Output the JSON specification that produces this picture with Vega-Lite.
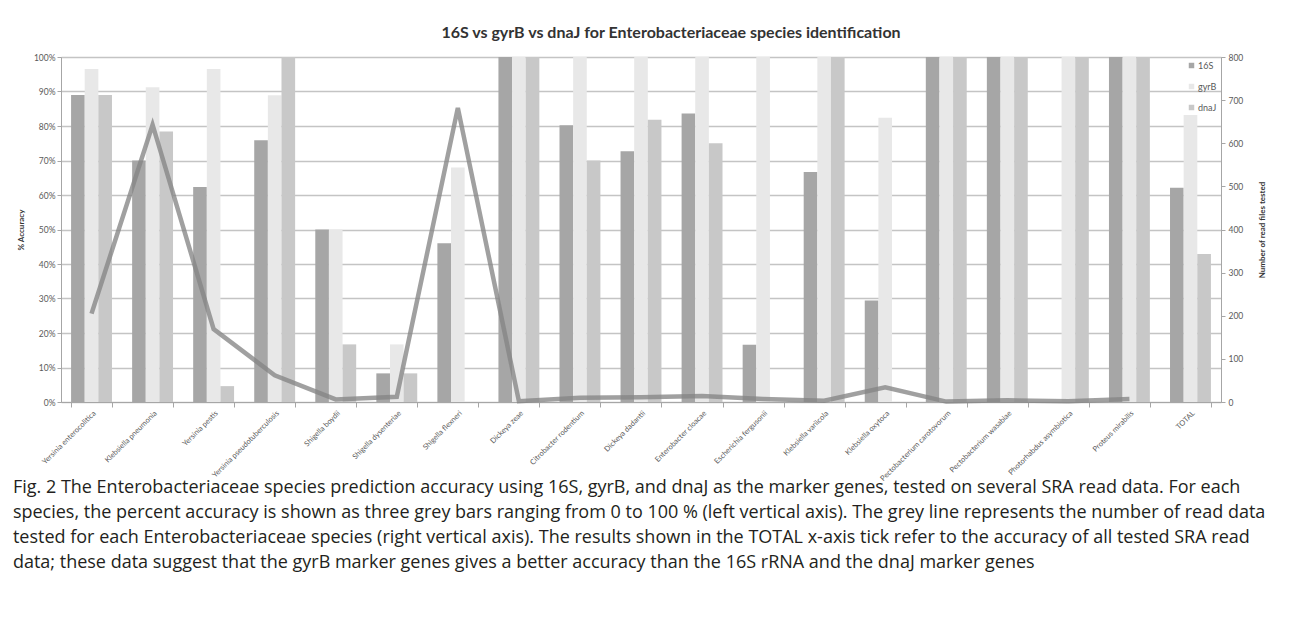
{
  "$schema": "https://vega.github.io/schema/vega-lite/v6.json",
  "padding": {"left": 12, "top": 24, "right": 8, "bottom": 10},
  "background": "white",
  "title": {
    "text": [
      "Fig. 2 The Enterobacteriaceae species prediction accuracy using 16S, gyrB, and dnaJ as the marker genes, tested on several SRA read data. For each",
      "species, the percent accuracy is shown as three grey bars ranging from 0 to 100 % (left vertical axis). The grey line represents the number of read data",
      "tested for each Enterobacteriaceae species (right vertical axis). The results shown in the TOTAL x-axis tick refer to the accuracy of all tested SRA read",
      "data; these data suggest that the gyrB marker genes gives a better accuracy than the 16S rRNA and the dnaJ marker genes"
    ],
    "orient": "bottom",
    "anchor": "start",
    "font": "Open Sans",
    "fontSize": 18,
    "fontWeight": "normal",
    "lineHeight": 25,
    "color": "#231f20",
    "offset": -3,
    "dx": -4
  },
  "datasets": {
    "acc": [
      {"species": "Yersinia enterocolitica", "marker": "16S", "accuracy": 89},
      {"species": "Yersinia enterocolitica", "marker": "gyrB", "accuracy": 96.5},
      {"species": "Yersinia enterocolitica", "marker": "dnaJ", "accuracy": 89},
      {"species": "Klebsiella pneumonia", "marker": "16S", "accuracy": 70},
      {"species": "Klebsiella pneumonia", "marker": "gyrB", "accuracy": 91.2},
      {"species": "Klebsiella pneumonia", "marker": "dnaJ", "accuracy": 78.4},
      {"species": "Yersinia pestis", "marker": "16S", "accuracy": 62.3},
      {"species": "Yersinia pestis", "marker": "gyrB", "accuracy": 96.5},
      {"species": "Yersinia pestis", "marker": "dnaJ", "accuracy": 4.6},
      {"species": "Yersinia pseudotuberculosis", "marker": "16S", "accuracy": 75.9},
      {"species": "Yersinia pseudotuberculosis", "marker": "gyrB", "accuracy": 88.9},
      {"species": "Yersinia pseudotuberculosis", "marker": "dnaJ", "accuracy": 100},
      {"species": "Shigella boydii", "marker": "16S", "accuracy": 50},
      {"species": "Shigella boydii", "marker": "gyrB", "accuracy": 50},
      {"species": "Shigella boydii", "marker": "dnaJ", "accuracy": 16.7},
      {"species": "Shigella dysenteriae", "marker": "16S", "accuracy": 8.3},
      {"species": "Shigella dysenteriae", "marker": "gyrB", "accuracy": 16.7},
      {"species": "Shigella dysenteriae", "marker": "dnaJ", "accuracy": 8.3},
      {"species": "Shigella flexneri", "marker": "16S", "accuracy": 46},
      {"species": "Shigella flexneri", "marker": "gyrB", "accuracy": 68},
      {"species": "Shigella flexneri", "marker": "dnaJ", "accuracy": 0},
      {"species": "Dickeya zeae", "marker": "16S", "accuracy": 100},
      {"species": "Dickeya zeae", "marker": "gyrB", "accuracy": 100},
      {"species": "Dickeya zeae", "marker": "dnaJ", "accuracy": 100},
      {"species": "Citrobacter rodentium", "marker": "16S", "accuracy": 80.2},
      {"species": "Citrobacter rodentium", "marker": "gyrB", "accuracy": 100},
      {"species": "Citrobacter rodentium", "marker": "dnaJ", "accuracy": 70},
      {"species": "Dickeya dadantii", "marker": "16S", "accuracy": 72.7},
      {"species": "Dickeya dadantii", "marker": "gyrB", "accuracy": 100},
      {"species": "Dickeya dadantii", "marker": "dnaJ", "accuracy": 81.8},
      {"species": "Enterobacter cloacae", "marker": "16S", "accuracy": 83.6},
      {"species": "Enterobacter cloacae", "marker": "gyrB", "accuracy": 100},
      {"species": "Enterobacter cloacae", "marker": "dnaJ", "accuracy": 75},
      {"species": "Escherichia fergusonii", "marker": "16S", "accuracy": 16.6},
      {"species": "Escherichia fergusonii", "marker": "gyrB", "accuracy": 100},
      {"species": "Escherichia fergusonii", "marker": "dnaJ", "accuracy": 0},
      {"species": "Klebsiella variicola", "marker": "16S", "accuracy": 66.7},
      {"species": "Klebsiella variicola", "marker": "gyrB", "accuracy": 100},
      {"species": "Klebsiella variicola", "marker": "dnaJ", "accuracy": 100},
      {"species": "Klebsiella oxytoca", "marker": "16S", "accuracy": 29.4},
      {"species": "Klebsiella oxytoca", "marker": "gyrB", "accuracy": 82.4},
      {"species": "Klebsiella oxytoca", "marker": "dnaJ", "accuracy": 0},
      {"species": "Pectobacterium carotovorum", "marker": "16S", "accuracy": 100},
      {"species": "Pectobacterium carotovorum", "marker": "gyrB", "accuracy": 100},
      {"species": "Pectobacterium carotovorum", "marker": "dnaJ", "accuracy": 100},
      {"species": "Pectobacterium wasabiae", "marker": "16S", "accuracy": 100},
      {"species": "Pectobacterium wasabiae", "marker": "gyrB", "accuracy": 100},
      {"species": "Pectobacterium wasabiae", "marker": "dnaJ", "accuracy": 100},
      {"species": "Photorhabdus asymbiotica", "marker": "16S", "accuracy": 0},
      {"species": "Photorhabdus asymbiotica", "marker": "gyrB", "accuracy": 100},
      {"species": "Photorhabdus asymbiotica", "marker": "dnaJ", "accuracy": 100},
      {"species": "Proteus mirabilis", "marker": "16S", "accuracy": 100},
      {"species": "Proteus mirabilis", "marker": "gyrB", "accuracy": 100},
      {"species": "Proteus mirabilis", "marker": "dnaJ", "accuracy": 100},
      {"species": "TOTAL", "marker": "16S", "accuracy": 62.1},
      {"species": "TOTAL", "marker": "gyrB", "accuracy": 83.2},
      {"species": "TOTAL", "marker": "dnaJ", "accuracy": 42.9}
    ],
    "reads": [
      {"species": "Yersinia enterocolitica", "reads": 205},
      {"species": "Klebsiella pneumonia", "reads": 643},
      {"species": "Yersinia pestis", "reads": 169},
      {"species": "Yersinia pseudotuberculosis", "reads": 62},
      {"species": "Shigella boydii", "reads": 6},
      {"species": "Shigella dysenteriae", "reads": 12},
      {"species": "Shigella flexneri", "reads": 682},
      {"species": "Dickeya zeae", "reads": 2},
      {"species": "Citrobacter rodentium", "reads": 10},
      {"species": "Dickeya dadantii", "reads": 11},
      {"species": "Enterobacter cloacae", "reads": 14},
      {"species": "Escherichia fergusonii", "reads": 7},
      {"species": "Klebsiella variicola", "reads": 3},
      {"species": "Klebsiella oxytoca", "reads": 34},
      {"species": "Pectobacterium carotovorum", "reads": 1},
      {"species": "Pectobacterium wasabiae", "reads": 4},
      {"species": "Photorhabdus asymbiotica", "reads": 2},
      {"species": "Proteus mirabilis", "reads": 7}
    ]
  },
  "vconcat": [
    {
      "width": 1160,
      "height": 345,
      "title": {
        "text": "16S vs gyrB vs dnaJ for Enterobacteriaceae species identification",
        "font": "Lato",
        "fontSize": 16,
        "fontWeight": "bold",
        "color": "#333333",
        "anchor": "middle",
        "offset": 12,
        "dx": 30
      },
      "layer": [
        {
          "data": {"name": "acc"},
          "mark": {"type": "bar"},
          "encoding": {
            "x": {
              "field": "species",
              "type": "nominal",
              "sort": null,
              "scale": {"paddingInner": 0.33, "paddingOuter": 0.165},
              "axis": {
                "title": null,
                "labelAngle": -45,
                "labelAlign": "right",
                "labelBaseline": "top",
                "labelFontSize": 7.5,
                "labelColor": "#595959",
                "labelFont": "Lato",
                "tickBand": "extent",
                "tickSize": 5,
                "tickColor": "#a6a6a6",
                "domainColor": "#a6a6a6",
                "labelPadding": 2
              }
            },
            "xOffset": {"field": "marker", "type": "nominal", "sort": ["16S", "gyrB", "dnaJ"], "scale": {"paddingInner": 0, "paddingOuter": 0}},
            "y": {
              "field": "accuracy",
              "type": "quantitative",
              "scale": {"domain": [0, 100], "nice": false},
              "axis": {
                "title": "% Accuracy",
                "titleFontSize": 8,
                "titleFont": "Lato",
                "titleFontWeight": "bold",
                "titleColor": "#333333",
                "titlePadding": 8,
                "values": [0, 10, 20, 30, 40, 50, 60, 70, 80, 90, 100],
                "labelExpr": "datum.value + '%'",
                "labelFontSize": 8.5,
                "labelFont": "Lato",
                "labelColor": "#595959",
                "tickSize": 4,
                "tickColor": "#a6a6a6",
                "domainColor": "#a6a6a6",
                "grid": true,
                "gridColor": "#c4c4c4",
                "gridWidth": 1.3
              }
            },
            "color": {
              "field": "marker",
              "type": "nominal",
              "scale": {"domain": ["16S", "gyrB", "dnaJ"], "range": ["#a6a6a6", "#e8e8e8", "#c8c8c8"]},
              "legend": {
                "title": null,
                "orient": "none",
                "legendX": 1126,
                "legendY": 4,
                "symbolType": "square",
                "symbolSize": 30,
                "symbolStrokeWidth": 0,
                "labelFontSize": 9,
                "labelFont": "Lato",
                "labelColor": "#595959",
                "rowPadding": 11,
                "labelOffset": 2
              }
            }
          }
        },
        {
          "data": {"name": "reads"},
          "mark": {"type": "line", "color": "#858585", "opacity": 0.78, "strokeWidth": 4.5},
          "encoding": {
            "x": {"field": "species", "type": "nominal", "sort": null},
            "y": {
              "field": "reads",
              "type": "quantitative",
              "scale": {"domain": [0, 800], "nice": false},
              "axis": {
                "orient": "right",
                "title": "Number of read files tested",
                "titleAngle": 270,
                "titleBaseline": "top",
                "titleFontSize": 8,
                "titleFont": "Lato",
                "titleFontWeight": "bold",
                "titleColor": "#333333",
                "titlePadding": 16,
                "values": [0, 100, 200, 300, 400, 500, 600, 700, 800],
                "labelFontSize": 8.5,
                "labelFont": "Lato",
                "labelColor": "#595959",
                "labelPadding": 3,
                "tickSize": 4,
                "tickColor": "#a6a6a6",
                "domainColor": "#a6a6a6",
                "grid": false
              }
            }
          }
        }
      ],
      "resolve": {"scale": {"y": "independent"}}
    }
  ],
  "config": {
    "view": {"stroke": "#c4c4c4"},
    "axis": {"labelFont": "Lato"}
  }
}
